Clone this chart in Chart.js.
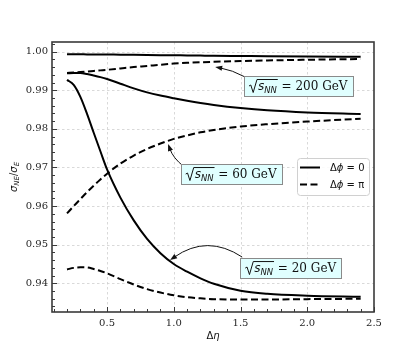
<!DOCTYPE html>
<html><head><meta charset="utf-8">
<script src="https://cdn.jsdelivr.net/npm/chart.js@4/dist/chart.umd.min.js"></script>
<style>html,body{margin:0;padding:0;background:#fff}#wrap{width:416px;height:351px}</style>
</head><body><div id="wrap"><canvas id="c" width="416" height="351"></canvas></div>
<script>
const dEta = [0.2,0.25,0.3,0.35,0.4,0.45,0.5,0.6,0.7,0.8,0.9,1.0,1.1,1.2,1.3,1.5,1.7,2.0,2.4];
const s200_dphi0  = [0.99932,0.99931,0.9993,0.99929,0.99928,0.99927,0.99925,0.99922,0.99918,0.99914,0.9991,0.99906,0.99902,0.99898,0.99894,0.99887,0.9988,0.99872,0.99865];
const s200_dphiPi = [0.99448,0.99458,0.9947,0.99485,0.995,0.99515,0.9953,0.99565,0.996,0.9963,0.99662,0.99690,0.99710,0.99725,0.99738,0.99758,0.99772,0.9979,0.9981];
const s60_dphi0   = [0.99439,0.99445,0.99447,0.9942,0.99382,0.9934,0.99291,0.9917,0.9905,0.98945,0.98862,0.98792,0.98728,0.9867,0.9862,0.9854,0.9848,0.98425,0.98385];
const s60_dphiPi  = [0.9581,0.96,0.9618,0.9636,0.9653,0.9669,0.9684,0.971,0.9731,0.9748,0.9762,0.9774,0.9783,0.9791,0.9797,0.9806,0.9812,0.9819,0.9826];
const s20_dphi0   = [0.9927,0.9914,0.9883,0.9839,0.979,0.9742,0.9695,0.9622,0.9563,0.9515,0.9478,0.945,0.943,0.9413,0.9399,0.9381,0.9373,0.9368,0.9365];
const s20_dphiPi  = [0.9436,0.944,0.94415,0.9441,0.9437,0.9432,0.9426,0.9411,0.9397,0.9385,0.9376,0.9369,0.9364,0.9361,0.9359,0.9358,0.9358,0.9359,0.936];
const xTicks = [0.5,1.0,1.5,2.0,2.5];
const yTicks = [0.94,0.95,0.96,0.97,0.98,0.99,1.00];
const legendLabels = ['\u0394\u03d5 = 0','\u0394\u03d5 = \u03c0'];
const energyLabels = ['200','60','20'];

const pts = arr => arr.map((v,i)=>({x:dEta[i], y:v}));
function ds(arr, dashed){
  return {data:pts(arr), borderColor:'#000', borderWidth:2, borderDash: dashed?[7,3.5]:[],
    pointRadius:0, fill:false, cubicInterpolationMode:'monotone', showLine:true};
}
const FRAME='#3a3a3a';

// annotations in data coordinates
const annots = [
  {label:energyLabels[0], cx:1.9325, cy:0.9911, start:[1.535,0.99343], ctrl:[1.4375,0.99525], head:[1.31,0.99602]},
  {label:energyLabels[1], cx:1.43,   cy:0.9683, start:[1.07,0.97038],  ctrl:[0.995,0.97245],  head:[0.9575,0.97608]},
  {label:energyLabels[2], cx:1.876,  cy:0.94395,start:[1.5125,0.9468], ctrl:[1.25,0.95276],   head:[0.9725,0.94602]}
];

function drawSqrtBox(ctx, cx, cy, val){
  const fs=12;
  ctx.save();
  const fIt = 'italic '+fs+'px "DejaVu Sans"';
  const fSub = 'italic '+(fs*0.7)+'px "DejaVu Sans"';
  const fSer = fs+'px "DejaVu Serif"';
  ctx.font=fIt; const wS=ctx.measureText('s').width;
  ctx.font=fSub; const wNN=ctx.measureText('NN').width;
  ctx.font=fSer; const rest=' = '+val+' GeV'; const wR=ctx.measureText(rest).width;
  const wRad=9;
  const total = wRad + wS + wNN + 1 + wR;
  const padX=5, h=20;
  const bx = cx-total/2-padX, by=cy-h/2, bw=total+2*padX;
  ctx.fillStyle='#e0ffff'; ctx.strokeStyle='#8a8a8a'; ctx.lineWidth=1;
  ctx.fillRect(Math.round(bx)+0.5, Math.round(by)+0.5, Math.round(bw), h);
  ctx.strokeRect(Math.round(bx)+0.5, Math.round(by)+0.5, Math.round(bw), h);
  const base = cy+4;
  let x = cx-total/2;
  ctx.strokeStyle='#111'; ctx.lineWidth=1;
  ctx.beginPath();
  ctx.moveTo(x, base-4); ctx.lineTo(x+1.8, base-5); ctx.lineTo(x+4.2, base+2.5);
  ctx.lineTo(x+8, base-10.5); ctx.lineTo(x+wRad+wS+wNN+1, base-10.5);
  ctx.stroke();
  x += wRad;
  ctx.fillStyle='#111'; ctx.textBaseline='alphabetic'; ctx.textAlign='left';
  ctx.font=fIt; ctx.fillText('s', x, base); x+=wS;
  ctx.font=fSub; ctx.fillText('NN', x, base+2.5); x+=wNN+1;
  ctx.font=fSer; ctx.fillText(rest, x, base);
  ctx.restore();
}

function drawArrow(ctx, p0, c, p1){
  ctx.save();
  ctx.strokeStyle='#111'; ctx.fillStyle='#111'; ctx.lineWidth=1;
  const dx=p1[0]-c[0], dy=p1[1]-c[1], L=Math.hypot(dx,dy), ux=dx/L, uy=dy/L;
  const hl=7, hw=2.6;
  const bxp=p1[0]-ux*hl, byp=p1[1]-uy*hl;
  ctx.beginPath(); ctx.moveTo(p0[0],p0[1]);
  ctx.quadraticCurveTo(c[0],c[1], bxp+ux*2, byp+uy*2); ctx.stroke();
  ctx.beginPath(); ctx.moveTo(p1[0],p1[1]);
  ctx.lineTo(bxp-uy*hw, byp+ux*hw); ctx.lineTo(bxp+uy*hw, byp-ux*hw); ctx.closePath(); ctx.fill();
  ctx.restore();
}

const decor = {
  id:'decor',
  beforeDatasetsDraw(chart){
    const {ctx, chartArea:a, scales:{x,y}} = chart;
    ctx.save();
    ctx.strokeStyle='#cfcfcf'; ctx.lineWidth=0.8; ctx.setLineDash([2.5,2.5]);
    xTicks.forEach(v=>{ const px=Math.round(x.getPixelForValue(v))+0.5; if(px<a.right-1){ctx.beginPath();ctx.moveTo(px,a.top);ctx.lineTo(px,a.bottom);ctx.stroke();}});
    yTicks.forEach(v=>{ const py=Math.round(y.getPixelForValue(v))+0.5; ctx.beginPath();ctx.moveTo(a.left,py);ctx.lineTo(a.right,py);ctx.stroke();});
    ctx.restore();
  },
  afterDatasetsDraw(chart){
    const {ctx, chartArea:a, scales:{x,y}} = chart;
    ctx.save();
    ctx.strokeStyle=FRAME; ctx.lineWidth=1;
    for(let k=1;k<=25;k++){ const v=k/10; if(v<x.min||v>x.max) continue;
      const px=Math.round(x.getPixelForValue(v))+0.5; const len=(k%5===0)?5:3;
      ctx.beginPath(); ctx.moveTo(px,a.bottom); ctx.lineTo(px,a.bottom-len); ctx.stroke(); }
    for(let k=466;k<=501;k++){ const v=k*0.002; if(v<y.min||v>y.max) continue;
      const py=Math.round(y.getPixelForValue(v))+0.5; const len=(k%5===0)?5:3;
      ctx.beginPath(); ctx.moveTo(a.left,py); ctx.lineTo(a.left+len,py); ctx.stroke(); }
    ctx.lineWidth=1.6; ctx.strokeStyle=FRAME;
    ctx.strokeRect(a.left, a.top, a.right-a.left, a.bottom-a.top);
    annots.forEach(an=>{
      const P=p=>[x.getPixelForValue(p[0]), y.getPixelForValue(p[1])];
      drawArrow(ctx, P(an.start), P(an.ctrl), P(an.head));
      drawSqrtBox(ctx, x.getPixelForValue(an.cx), y.getPixelForValue(an.cy), an.label);
    });
    const lx=297.5, ly=158.5, lw=72, lh=37;
    ctx.beginPath(); ctx.roundRect(lx,ly,lw,lh,3);
    ctx.fillStyle='rgba(255,255,255,0.85)'; ctx.fill(); ctx.strokeStyle='#d0d0d0'; ctx.lineWidth=1; ctx.stroke();
    [[0,167.5],[1,184.5]].forEach(([i,yy])=>{
      ctx.strokeStyle='#000'; ctx.lineWidth=2; ctx.setLineDash(i?[7,3.5]:[]);
      ctx.beginPath(); ctx.moveTo(300,yy); ctx.lineTo(320,yy); ctx.stroke(); ctx.setLineDash([]);
      ctx.fillStyle='#111'; ctx.textBaseline='alphabetic'; ctx.textAlign='left';
      let tx=330; const parts=[['\u0394',''],['\u03d5','italic '],[legendLabels[i].slice(2),'']];
      parts.forEach(([t,st])=>{ ctx.font=st+'10px "DejaVu Sans"'; ctx.fillText(t,tx,yy+3.8); tx+=ctx.measureText(t).width; });
    });
    ctx.fillStyle='#111';
    {
      const parts=[['\u0394','10px "DejaVu Sans"'],['\u03b7','italic 10px "DejaVu Sans"']];
      let w=0; parts.forEach(p=>{ctx.font=p[1]; w+=ctx.measureText(p[0]).width;});
      let tx=(a.left+a.right)/2 - w/2;
      parts.forEach(p=>{ctx.font=p[1]; ctx.fillText(p[0],tx,339); tx+=ctx.measureText(p[0]).width;});
    }
    {
      ctx.save(); ctx.translate(17,(a.top+a.bottom)/2); ctx.rotate(-Math.PI/2);
      const parts=[['\u03c3','italic 10px "DejaVu Sans"',0],['NE','italic 7px "DejaVu Sans"',2],['/','10px "DejaVu Sans"',0],['\u03c3','italic 10px "DejaVu Sans"',0],['E','italic 7px "DejaVu Sans"',2]];
      let w=0; parts.forEach(p=>{ctx.font=p[1]; w+=ctx.measureText(p[0]).width;});
      let tx=-w/2;
      parts.forEach(p=>{ctx.font=p[1]; ctx.fillText(p[0],tx,p[2]); tx+=ctx.measureText(p[0]).width;});
      ctx.restore();
    }
    ctx.restore();
  }
};

new Chart(document.getElementById('c'), {
  type:'scatter',
  data:{datasets:[ds(s200_dphi0,false),ds(s200_dphiPi,true),ds(s60_dphi0,false),ds(s60_dphiPi,true),ds(s20_dphi0,false),ds(s20_dphiPi,true)]},
  options:{
    responsive:false, animation:false, devicePixelRatio:1,
    layout:{padding:{top:42,right:42,left:0,bottom:0}},
    plugins:{legend:{display:false}, tooltip:{enabled:false}},
    scales:{
      x:{type:'linear', min:0.0875, max:2.5,
        afterBuildTicks:s=>{s.ticks=xTicks.map(v=>({value:v}));},
        afterFit:s=>{s.height=39;},
        grid:{display:false, drawTicks:false}, border:{display:false},
        ticks:{padding:5, color:'#262626', font:{family:'DejaVu Serif', size:10}, callback:v=>Number(v).toFixed(1), maxRotation:0, autoSkip:false}},
      y:{type:'linear', min:0.93257, max:1.0025,
        afterBuildTicks:s=>{s.ticks=yTicks.map(v=>({value:v}));},
        afterFit:s=>{s.width=52;},
        grid:{display:false, drawTicks:false}, border:{display:false},
        ticks:{padding:4, color:'#262626', font:{family:'DejaVu Serif', size:10}, callback:v=>Number(v).toFixed(2), autoSkip:false}}
    }
  },
  plugins:[decor]
});
</script></body></html>
